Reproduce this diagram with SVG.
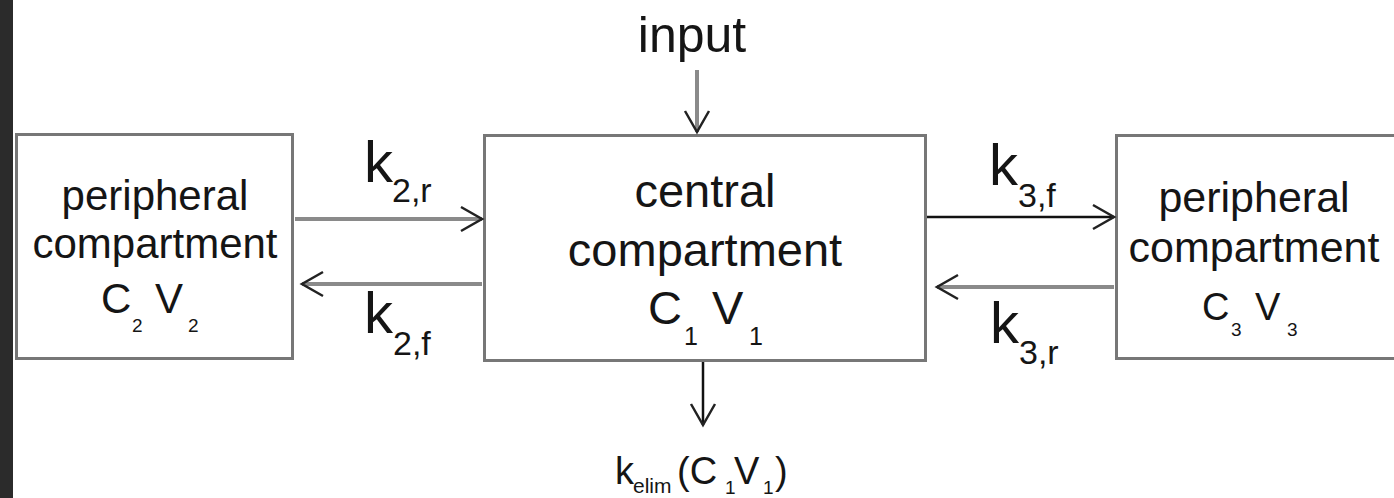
<svg xmlns="http://www.w3.org/2000/svg" width="1394" height="498" viewBox="0 0 1394 498">
  <style>
    .box { fill: #ffffff; stroke: #777777; stroke-width: 3; }
    .t { font-family: "Liberation Sans", Arial, sans-serif; fill: #151515; }
    .mid { text-anchor: middle; }
    .gray { stroke: #8a8a8a; stroke-width: 4; fill: none; }
    .blk { stroke: #111111; stroke-width: 2.5; fill: none; }
  </style>
  <defs>
    <marker id="chev" markerUnits="userSpaceOnUse" markerWidth="40" markerHeight="40" viewBox="-30 -20 40 40" refX="0" refY="0" orient="auto">
      <path d="M-21,-12 L0,0 L-21,12" fill="none" stroke="#222222" stroke-width="2.5"/>
    </marker>
  </defs>
  <rect x="0" y="0" width="1394" height="498" fill="#ffffff"/>
  <rect x="0" y="0" width="13" height="498" fill="#2b2b2b"/>

  <g id="input-label">
    <text class="t mid" x="692" y="52" font-size="50">input</text>
  </g>

  <g id="peripheral-2">
    <rect class="box" x="16.5" y="134.5" width="276" height="224"/>
    <text class="t mid" x="155" y="210" font-size="42">peripheral</text>
    <text class="t mid" x="155" y="258" font-size="42">compartment</text>
    <text class="t" y="313" font-size="42"><tspan x="101">C</tspan><tspan x="132" y="332" font-size="19">2</tspan><tspan x="155" y="313">V</tspan><tspan x="188" y="332" font-size="19">2</tspan></text>
  </g>

  <g id="central">
    <rect class="box" x="484.5" y="135.5" width="441" height="225"/>
    <text class="t mid" x="705" y="207" font-size="47">central</text>
    <text class="t mid" x="705" y="266" font-size="47">compartment</text>
    <text class="t" y="324" font-size="47"><tspan x="648">C</tspan><tspan x="684" y="345" font-size="25">1</tspan><tspan x="712" y="324">V</tspan><tspan x="749" y="345" font-size="25">1</tspan></text>
  </g>

  <g id="peripheral-3">
    <rect class="box" x="1116.5" y="135.5" width="290" height="223"/>
    <text class="t mid" x="1254" y="212" font-size="43">peripheral</text>
    <text class="t mid" x="1254" y="262" font-size="43">compartment</text>
    <text class="t" y="320" font-size="38"><tspan x="1202">C</tspan><tspan x="1231" y="336" font-size="19">3</tspan><tspan x="1255" y="320">V</tspan><tspan x="1287" y="336" font-size="19">3</tspan></text>
  </g>

  <g id="connectors">
    <line class="gray" x1="697" y1="70" x2="697" y2="132" marker-end="url(#chev)"/>
    <line class="gray" x1="295" y1="219" x2="482" y2="219" marker-end="url(#chev)"/>
    <line class="gray" x1="482" y1="284" x2="302" y2="284" marker-end="url(#chev)"/>
    <line class="blk" x1="927" y1="217" x2="1114" y2="217" marker-end="url(#chev)"/>
    <line class="gray" x1="1114" y1="287" x2="937" y2="287" marker-end="url(#chev)"/>
    <line class="blk" x1="703" y1="362" x2="703" y2="425" marker-end="url(#chev)"/>
  </g>

  <g id="rate-labels">
    <text class="t" y="182" font-size="58"><tspan x="364">k</tspan><tspan x="392" y="202" font-size="34">2,r</tspan></text>
    <text class="t" y="333" font-size="58"><tspan x="364">k</tspan><tspan x="393" y="355" font-size="34">2,f</tspan></text>
    <text class="t" y="185" font-size="58"><tspan x="989">k</tspan><tspan x="1018" y="207" font-size="34">3,f</tspan></text>
    <text class="t" y="343" font-size="58"><tspan x="990">k</tspan><tspan x="1019" y="364" font-size="34">3,r</tspan></text>
  </g>

  <g id="elimination-label">
    <text class="t" y="484" font-size="38"><tspan x="615">k</tspan><tspan x="633" y="493" font-size="21">elim</tspan><tspan x="677" y="484">(C</tspan><tspan x="725" y="494" font-size="19">1</tspan><tspan x="734" y="484">V</tspan><tspan x="763" y="494" font-size="19">1</tspan><tspan x="775" y="484">)</tspan></text>
  </g>
</svg>
